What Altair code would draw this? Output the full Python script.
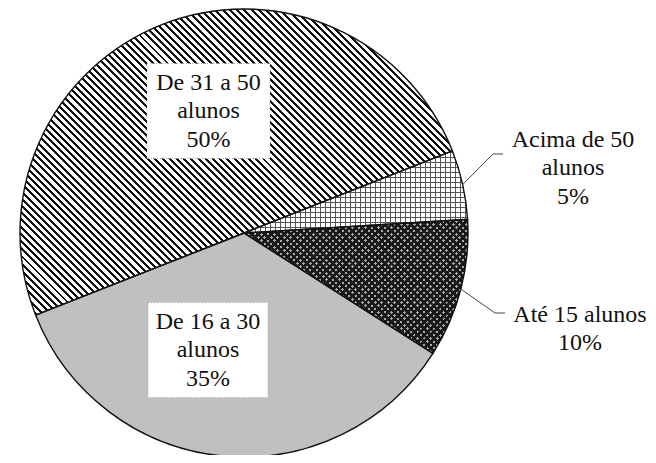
import math
import altair as alt
import pandas as pd

# ---------------- data ----------------
categories = ["Acima de 50 alunos", "Até 15 alunos", "De 16 a 30 alunos", "De 31 a 50 alunos"]
percent = [5, 10, 35, 50]
name_lines = ["Acima de 50\nalunos", "Até 15 alunos", "De 16 a 30\nalunos", "De 31 a 50\nalunos"]

# ---------------- style / layout ----------------
W_CHART, H_CHART = 640, 447
CX, CY, R = 236, 225, 224
START_DEG = 68.5
A0 = math.radians(START_DEG)
FONT = "'Liberation Serif', 'Times New Roman', Times, serif"
FS = 24
LH = 28.5

# text block centre per category (chart px)
LABEL_POS = {
    "Acima de 50 alunos": (565, 160),
    "Até 15 alunos": (572, 321),
    "De 16 a 30 alunos": (200, 342),
    "De 31 a 50 alunos": (200.5, 103),
}
# white boxes (half width, half height) for inside labels
BOX = {
    "De 16 a 30 alunos": (60, 47.5),
    "De 31 a 50 alunos": (61.5, 47.5),
}
# leader elbows (elbow x, elbow y, end x)
LEADER = {
    "Acima de 50 alunos": (485, 146, 495),
    "Até 15 alunos": (487, 305, 497),
}

df = pd.DataFrame({"cat": categories, "value": percent, "name": name_lines,
                   "order": list(range(len(categories)))})
df["tx"] = [LABEL_POS[c][0] for c in categories]
df["ty"] = [LABEL_POS[c][1] for c in categories]
df["bw"] = [BOX.get(c, (0, 0))[0] for c in categories]
df["bh"] = [BOX.get(c, (0, 0))[1] for c in categories]
df["elx"] = [LEADER.get(c, (0, 0, 0))[0] for c in categories]
df["ely"] = [LEADER.get(c, (0, 0, 0))[1] for c in categories]
df["enx"] = [LEADER.get(c, (0, 0, 0))[2] for c in categories]

# slice angles (for the hatch gradient bounding boxes only)
total = sum(percent)
angles = {}
acc = 0
for c, v in zip(categories, percent):
    a_s = A0 + acc / total * 2 * math.pi
    acc += v
    a_e = A0 + acc / total * 2 * math.pi
    angles[c] = (a_s, a_e)


def sector_bbox(a_s, a_e):
    pts = [(CX, CY)]
    for a in (a_s, a_e):
        pts.append((CX + R * math.sin(a), CY - R * math.cos(a)))
    for k in range(-4, 12):
        a = k * math.pi / 2
        if a_s <= a <= a_e:
            pts.append((CX + R * math.sin(a), CY - R * math.cos(a)))
    xs = [p[0] for p in pts]
    ys = [p[1] for p in pts]
    return max(xs) - min(xs), max(ys) - min(ys)


def stripes(cat, normal_deg, pitch, line_w, line_color, gap_color):
    a_s, a_e = angles[cat]
    W, H = sector_bbox(a_s, a_e)
    nx, ny = math.cos(math.radians(normal_deg)), math.sin(math.radians(normal_deg))
    span = abs(nx) * W + abs(ny) * H
    c = span / (nx * nx * W * W + ny * ny * H * H)
    x1 = 0.0 if nx >= 0 else 1.0
    y1 = 0.0 if ny >= 0 else 1.0
    x2 = x1 + c * nx * W
    y2 = y1 + c * ny * H
    stops = [alt.GradientStop(offset=0, color=gap_color)]
    k = 0
    while k * pitch < span:
        s = min(1.0, (k * pitch + 1.0) / span)
        e = min(1.0, (k * pitch + 1.0 + line_w) / span)
        stops += [alt.GradientStop(offset=s, color=gap_color),
                  alt.GradientStop(offset=s, color=line_color),
                  alt.GradientStop(offset=e, color=line_color),
                  alt.GradientStop(offset=e, color=gap_color)]
        k += 1
    stops.append(alt.GradientStop(offset=1, color=gap_color))
    return alt.LinearGradient(gradient="linear", stops=stops,
                              x1=round(x1, 4), y1=round(y1, 4), x2=round(x2, 4), y2=round(y2, 4))


CLEAR = "rgba(255,255,255,0)"

theta_scale = alt.Scale(domain=[0, total], range=[A0, A0 + 2 * math.pi])

base = alt.Chart(df).transform_window(
    cum="sum(value)", frame=[None, 0], sort=[alt.SortField("order")]
).transform_calculate(
    start="datum.cum - datum.value",
    mid="datum.cum - datum.value / 2",
)

arc_enc = dict(
    theta=alt.Theta("start:Q", scale=theta_scale, stack=None),
    theta2=alt.Theta2("cum:Q"),
    x=alt.value(CX),
    y=alt.value(CY),
)


def slice_layer(cat, fill):
    return base.transform_filter(alt.datum.cat == cat).mark_arc(
        radius=R, fill=fill, strokeWidth=0
    ).encode(**arc_enc)


layers = [
    slice_layer("De 31 a 50 alunos", stripes("De 31 a 50 alunos", -45, 5.1, 2.1, "#111111", "#ffffff")),
    slice_layer("De 16 a 30 alunos", "#c0c0c0"),
    slice_layer("Acima de 50 alunos", stripes("Acima de 50 alunos", 90, 5.0, 1.4, "#555555", "#ffffff")),
    slice_layer("Acima de 50 alunos", stripes("Acima de 50 alunos", 0, 5.0, 1.4, "#555555", CLEAR)),
    slice_layer("Até 15 alunos", stripes("Até 15 alunos", 45, 4.6, 2.5, "#1a1a1a", "#a8a8a8")),
    slice_layer("Até 15 alunos", stripes("Até 15 alunos", -45, 4.6, 2.5, "#1a1a1a", CLEAR)),
]

outline = base.mark_arc(radius=R, fillOpacity=0, stroke="#111111", strokeWidth=1.4).encode(**arc_enc)
layers.append(outline)

# white boxes behind inside labels
boxes = base.transform_filter("datum.bw > 0").transform_calculate(
    bx1="datum.tx - datum.bw", bx2="datum.tx + datum.bw",
    by1="datum.ty - datum.bh", by2="datum.ty + datum.bh",
).mark_rect(fill="white", stroke="#9a9a9a", strokeWidth=0.8, strokeDash=[1, 2]).encode(
    x=alt.X("bx1:Q", scale=None, axis=None),
    x2="bx2:Q",
    y=alt.Y("by1:Q", scale=None, axis=None),
    y2="by2:Q",
)
layers.append(boxes)

# leader lines for outside labels
lead_base = base.transform_filter("datum.elx > 0").transform_calculate(
    ang=f"{A0} + datum.mid / {total} * 2 * PI",
).transform_calculate(
    ex=f"{CX} + {R} * sin(datum.ang)",
    ey=f"{CY} - {R} * cos(datum.ang)",
)
lead1 = lead_base.mark_rule(color="#444444", strokeWidth=1).encode(
    x=alt.X("ex:Q", scale=None, axis=None), y=alt.Y("ey:Q", scale=None, axis=None),
    x2="elx:Q", y2="ely:Q",
)
lead2 = lead_base.mark_rule(color="#444444", strokeWidth=1).encode(
    x=alt.X("elx:Q", scale=None, axis=None), y=alt.Y("ely:Q", scale=None, axis=None),
    x2="enx:Q", y2="ely:Q",
)
layers += [lead1, lead2]

labels = base.transform_calculate(
    label="datum.name + '\\n' + datum.value + '%'"
).transform_calculate(
    nlines="length(split(datum.label, '\\n'))"
).transform_calculate(
    ly=f"datum.ty - (datum.nlines - 1) * {LH} / 2"
).mark_text(
    font=FONT, fontSize=FS, lineHeight=LH, color="#111111", align="center",
    baseline="middle", lineBreak="\n",
).encode(
    x=alt.X("tx:Q", scale=None, axis=None),
    y=alt.Y("ly:Q", scale=None, axis=None),
    text="label:N",
)
layers.append(labels)

chart = alt.layer(*layers).properties(
    width=W_CHART, height=H_CHART, padding=0,
    autosize=alt.AutoSizeParams(type="none"),
).configure(background="white").configure_view(stroke=None)

chart.save("out.html", embed_options={"renderer": "svg", "actions": False})
